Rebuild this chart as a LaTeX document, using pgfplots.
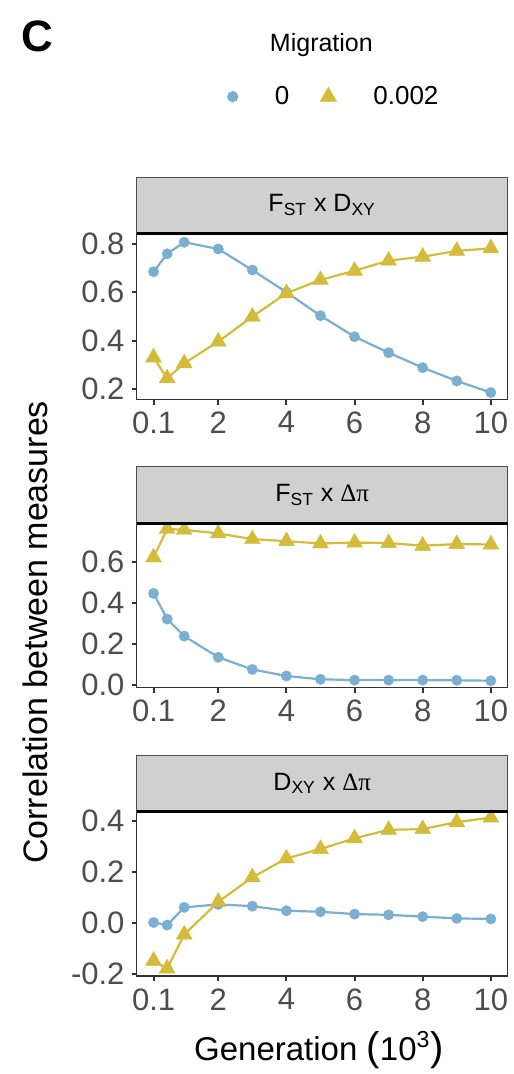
\documentclass[border=0pt]{standalone}
\usepackage{pgfplots}
\pgfplotsset{compat=1.18}
\usepackage{fontspec}
\setmainfont{Liberation Sans}
\newfontfamily\greekfont{Liberation Serif}

\definecolor{cblue}{RGB}{122,175,210}
\definecolor{cyellow}{RGB}{212,188,58}
\definecolor{stripgray}{RGB}{208,208,208}
\definecolor{gray30}{RGB}{77,77,77}
\definecolor{framegray}{RGB}{51,51,51}

\pgfplotsset{
  panel/.style={
    scale only axis, width=185.5pt, anchor=north west,
    xmin=-0.395, xmax=10.495,
    xtick={0.1,2,4,6,8,10},
    xticklabels={0.1,2,4,6,8,10},
    tick align=outside, tick pos=left,
    major tick length=2.6pt,
    every tick/.style={draw=framegray, line width=1pt},
    axis line style={draw=framegray, line width=0.7pt},
    tick label style={font=\fontsize{15.5}{18}\selectfont, text=gray30},
    /pgf/number format/assume math mode=true,
    yticklabel style={/pgf/number format/.cd, fixed, fixed zerofill, precision=1},
  },
  mig0/.style={color=cblue, line width=1.1pt, mark=*, mark size=2.6pt, mark options={solid, line width=0.2pt}},
  mig2/.style={color=cyellow, line width=1.1pt, mark=triangle*, mark size=4.6pt, mark options={solid, line width=0.2pt}},
}

\begin{document}
\begin{tikzpicture}
\useasboundingbox (0,0) rectangle (256.5pt,-537pt);

% panel 1: FST x DXY
\begin{axis}[panel, at={(68.35pt,-116.65pt)}, height=83pt,
  ymin=0.157, ymax=0.844, ytick={0.2,0.4,0.6,0.8},
  legend style={at={(axis description cs:0.5345,1.823)}, anchor=center,
    draw=none, fill=none, legend columns=2,
    font=\fontsize{13}{15}\selectfont,
    /tikz/every odd column/.append style={column sep=16.5pt},
    /tikz/every even column/.append style={column sep=13.5pt}},
  legend cell align=left]
\addlegendimage{only marks, mark=*, color=cblue, mark size=2.6pt}
\addlegendentry{0}
\addlegendimage{only marks, mark=triangle*, color=cyellow, mark size=4.6pt}
\addlegendentry{0.002}
\addplot[mig0, forget plot] coordinates {
  (0.1,0.685) (0.5,0.759) (1,0.807) (2,0.779) (3,0.692) (4,0.600)
  (5,0.503) (6,0.416) (7,0.350) (8,0.288) (9,0.233) (10,0.185)
};
\addplot[mig2, forget plot] coordinates {
  (0.1,0.330) (0.5,0.244) (1,0.306) (2,0.396) (3,0.499) (4,0.596)
  (5,0.651) (6,0.689) (7,0.731) (8,0.747) (9,0.771) (10,0.782)
};
\end{axis}

% panel 2: FST x delta pi
\begin{axis}[panel, at={(68.35pt,-261.65pt)}, height=82.2pt,
  ymin=-0.013, ymax=0.787, ytick={0,0.2,0.4,0.6}]
\addplot[mig0] coordinates {
  (0.1,0.446) (0.5,0.321) (1,0.238) (2,0.135) (3,0.076) (4,0.044)
  (5,0.028) (6,0.024) (7,0.024) (8,0.024) (9,0.023) (10,0.021)
};
\addplot[mig2] coordinates {
  (0.1,0.621) (0.5,0.760) (1,0.755) (2,0.738) (3,0.710) (4,0.700)
  (5,0.689) (6,0.693) (7,0.691) (8,0.678) (9,0.686) (10,0.684)
};
\end{axis}

% panel 3: DXY x delta pi
\begin{axis}[panel, at={(68.35pt,-405.85pt)}, height=82.2pt,
  ymin=-0.209, ymax=0.435, ytick={-0.2,0,0.2,0.4}]
\addplot[mig0] coordinates {
  (0.1,0.001) (0.5,-0.009) (1,0.060) (2,0.072) (3,0.065) (4,0.047)
  (5,0.043) (6,0.034) (7,0.031) (8,0.024) (9,0.017) (10,0.015)
};
\addplot[mig2] coordinates {
  (0.1,-0.149) (0.5,-0.179) (1,-0.046) (2,0.082) (3,0.178) (4,0.252)
  (5,0.289) (6,0.331) (7,0.364) (8,0.367) (9,0.394) (10,0.412)
};
\end{axis}

% facet strips
\foreach \top/\bot in {88.65/116.65, 233.35/261.65, 377.5/405.85}{
  \draw[fill=stripgray, draw=gray30, line width=0.5pt] (68.35pt,-\top pt) rectangle (253.85pt,-\bot pt);
  \draw[black, line width=1.5pt] (68.35pt,-\bot pt) -- (253.85pt,-\bot pt);
}
\node[font=\fontsize{12.5}{14}\selectfont] at (161.1pt,-102.65pt) {F\textsubscript{ST} x D\textsubscript{XY}};
\node[font=\fontsize{12.5}{14}\selectfont] at (161.1pt,-247.5pt) {F\textsubscript{ST} x {\greekfont Δπ}};
\node[font=\fontsize{12.5}{14}\selectfont] at (161.1pt,-391.7pt) {D\textsubscript{XY} x {\greekfont Δπ}};

% titles and labels
\node[anchor=base west, font=\fontsize{22}{24}\selectfont\bfseries] at (7pt,-26pt) {C};
\node[anchor=base, font=\fontsize{12.5}{14}\selectfont] at (160.7pt,-25.9pt) {Migration};
\node[anchor=base, rotate=90, font=\fontsize{17}{19}\selectfont] at (23.5pt,-316.2pt) {Correlation between measures};
\node[anchor=base, font=\fontsize{16.5}{19}\selectfont] at (159.5pt,-530pt) {Generation {\fontsize{20}{20}\selectfont(}10\textsuperscript{3}{\fontsize{20}{20}\selectfont)}};
\end{tikzpicture}
\end{document}
